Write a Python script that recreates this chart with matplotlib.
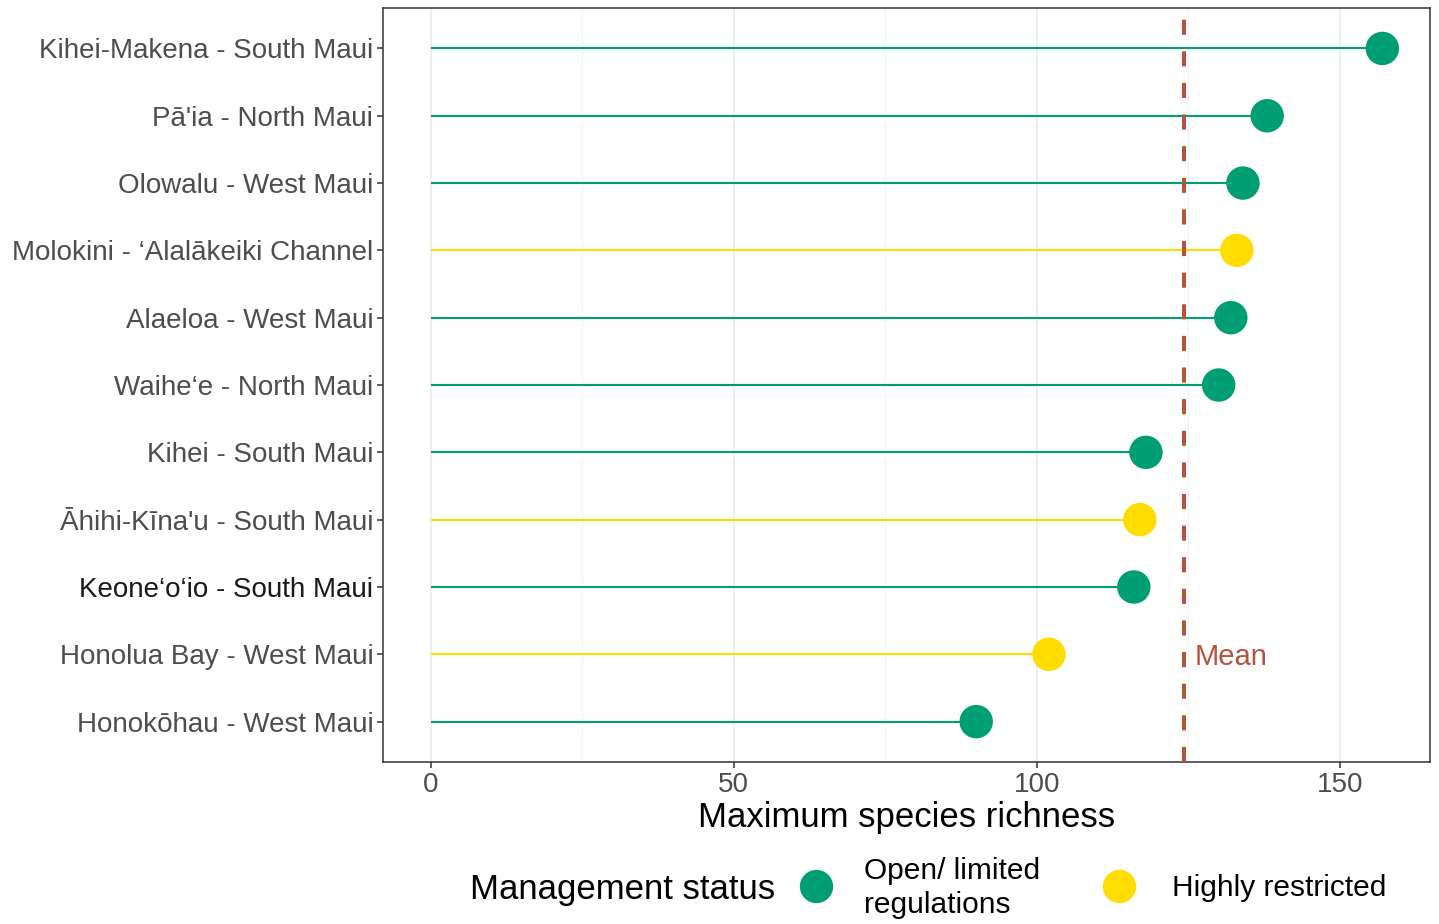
import numpy as np
import matplotlib
matplotlib.use("Agg")
import matplotlib.pyplot as plt
from matplotlib.lines import Line2D

plt.rcParams['font.family'] = ['Liberation Sans', 'DejaVu Sans']

# sites listed top to bottom
sites = [
    "Kihei-Makena - South Maui",
    "Pā'ia - North Maui",
    "Olowalu - West Maui",
    "Molokini - \u2018Alalākeiki Channel",
    "Alaeloa - West Maui",
    "Waihe\u2018e - North Maui",
    "Kihei - South Maui",
    "Āhihi-Kīna'u - South Maui",
    "Keone\u2018o\u2018io - South Maui",
    "Honolua Bay - West Maui",
    "Honokōhau - West Maui",
]
richness = [157, 138, 134, 133, 132, 130, 118, 117, 116, 102, 90]
status = ["Open", "Open", "Open", "Restricted", "Open", "Open",
          "Open", "Restricted", "Open", "Restricted", "Open"]

status_colors = {"Open": "#009E73", "Restricted": "#FFDD00"}
status_labels = {"Open": "Open/ limited\nregulations", "Restricted": "Highly restricted"}
mean_color = "#B5533E"

fig = plt.figure(figsize=(14.39, 9.24), dpi=100)
ax = fig.add_axes([0.2662, 0.1753, 0.7275, 0.816])

y = np.arange(len(sites))
cols = [status_colors[s] for s in status]

ax.hlines(y, 0, richness, colors=cols, linewidth=1.5, zorder=2)
ax.scatter(richness, y, s=580, c=cols, edgecolors='none', zorder=3)

mean_val = np.mean(richness)
ax.axvline(mean_val, color=mean_color, linewidth=2.9,
           linestyle=(0, (3.75, 4.1)), zorder=4)
ax.text(mean_val + 1.8, sites.index("Honolua Bay - West Maui"), "Mean",
        color=mean_color, fontsize=21, ha='left', va='center_baseline')

# 5% padding on the x range, 0.6 rows on the y range
xmax = max(richness)
ax.set_xlim(-0.05 * xmax, 1.05 * xmax)
ax.set_ylim(len(sites) - 0.4, -0.6)
ax.set_xticks([0, 50, 100, 150])
ax.set_xticks([25, 75, 125], minor=True)
ax.set_yticks(y)
ax.set_yticklabels(sites)

ax.grid(True, axis='x', which='major', color='#EBEBEB', linewidth=1.2, zorder=0)
ax.grid(True, axis='x', which='minor', color='#F2F2F2', linewidth=0.8, zorder=0)
ax.set_axisbelow(True)

ax.tick_params(axis='both', which='major', labelsize=20, colors='#333333',
               labelcolor='#4D4D4D', length=4, width=1.1, pad=3)
ax.tick_params(axis='x', which='minor', length=0)
for lab in ax.get_yticklabels():
    if lab.get_text().startswith("Keone"):
        lab.set_color('#1A1A1A')

for sp in ax.spines.values():
    sp.set_color('#333333')
    sp.set_linewidth(1.1)

ax.set_xlabel("Maximum species richness", fontsize=25, color='black', labelpad=2)

# legend along the bottom
fig.text(0.3266, 0.041, "Management status", fontsize=25,
         ha='left', va='center_baseline')
key_x = {"Open": 0.5671, "Restricted": 0.7776}
text_x = {"Open": 0.6004, "Restricted": 0.8145}
for k in ["Open", "Restricted"]:
    fig.add_artist(Line2D([key_x[k]], [0.0411], marker='o', linestyle='none',
                          markersize=24, markerfacecolor=status_colors[k],
                          markeredgecolor='none', transform=fig.transFigure))
    fig.text(text_x[k], 0.0385, status_labels[k], fontsize=21.5,
             ha='left', va='center', linespacing=1.27)

fig.savefig("out.png", dpi=100)
